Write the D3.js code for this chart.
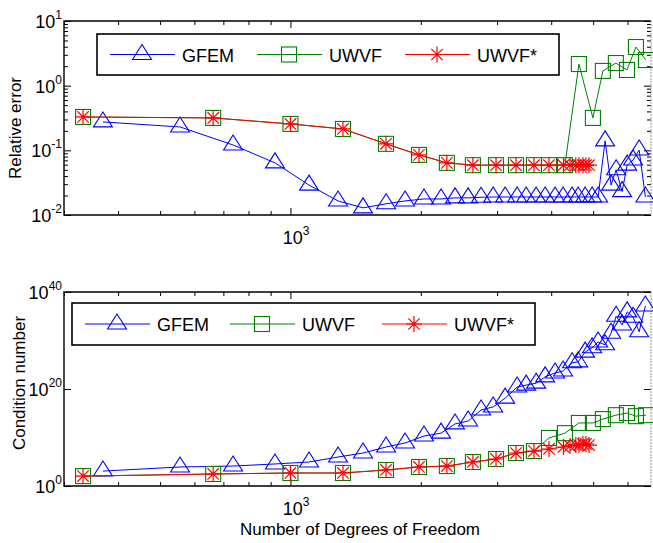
<!DOCTYPE html>
<html>
<head>
<meta charset="UTF-8">
<title>GFEM vs UWVF</title>
<script src="https://cdnjs.cloudflare.com/ajax/libs/d3/7.8.5/d3.min.js"></script>
<style>
body{margin:0;background:#fff;}
svg{display:block;font-family:"Liberation Sans",Arial,Helvetica,sans-serif;}
</style>
</head>
<body>
<script>
// degrees of freedom (x) and the two measured quantities per method
var dofGFEM = [369, 556, 737, 921, 1104, 1288, 1471, 1663, 1839, 2034, 2227, 2399, 2572, 2755, 2938,
  3131, 3337, 3501, 3692, 3873, 4083, 4261, 4470, 4616, 4790, 4972, 5133, 5328, 5500, 5649,
  5832, 5990, 6184, 6385, 6600];
var errGFEM = [0.275, 0.230, 0.121, 0.064, 0.029, 0.0165, 0.0129, 0.0149, 0.0165, 0.0177, 0.0177, 0.0184, 0.0184, 0.0188, 0.019,
  0.019, 0.019, 0.019, 0.019, 0.019, 0.019, 0.019, 0.019, 0.019, 0.019, 0.019, 0.019, 0.14, 0.029, 0.050,
  0.023, 0.059, 0.071, 0.101, 0.019];
var condGFEM = [1.2e3, 8.3e3, 1.3e4, 3.5e4, 8.9e4, 9.5e5, 6.3e6, 1.1e8, 7.4e8, 2.0e10, 7.9e10, 6.3e12, 2.5e13, 4.7e15, 2.0e16,
  1.3e18, 2.5e20, 6.3e20, 1.6e21, 3.2e22, 2.0e23, 5.0e23, 2.5e25, 4.0e25, 4.0e27, 3.2e28, 5.0e29, 1.3e29, 3.2e31, 1.0e35,
  1.6e33, 8.0e35, 6.3e34, 6.3e31, 1.3e37];

var dofUWVF = [332, 663, 1000, 1322, 1662, 1981, 2297, 2638, 2983, 3317, 3649, 3953, 4303, 4635, 4993,
  5265, 5641, 5985, 6277, 6620];
var errUWVF = [0.328, 0.317, 0.256, 0.214, 0.126, 0.085, 0.064, 0.059, 0.059, 0.059, 0.059, 0.059, 0.059, 2.16, 0.317,
  1.69, 2.24, 1.75, 3.96, 2.49];
var condUWVF = [1.1e2, 3.0e2, 4.8e2, 4.8e2, 2.0e3, 8.3e3, 1.3e4, 8.9e4, 3.7e5, 6.3e6, 1.6e7, 7.9e9, 7.9e10, 1.0e13, 1.0e13,
  6.3e13, 4.0e14, 1.1e15, 2.5e14, 4.0e14];

var dofUWVFs = [332, 663, 1000, 1322, 1662, 1981, 2297, 2638, 2983, 3317, 3649, 3953, 4270, 4420, 4560,
  4636, 4736, 4812, 4890];
var errUWVFs = [0.328, 0.317, 0.256, 0.214, 0.126, 0.085, 0.064, 0.059, 0.059, 0.059, 0.059, 0.059, 0.059, 0.059, 0.059,
  0.059, 0.059, 0.059, 0.059];
var condUWVFs = [1.1e2, 3.0e2, 4.8e2, 4.8e2, 2.0e3, 8.3e3, 1.3e4, 8.9e4, 3.7e5, 6.3e6, 1.6e7, 4.3e7, 1.1e8, 1.8e8, 2.8e8,
  2.8e8, 4.6e8, 4.6e8, 2.8e8];

var names = ["GFEM", "UWVF", "UWVF*"];
var colors = ["#0000ff", "#008000", "#ff0000"];
var xMinorTicks = [300, 400, 500, 600, 700, 800, 900, 2000, 3000, 4000, 5000, 6000];
var xMajorTicks = [1000];

var w = 653, h = 543;
var svg = d3.select("body").append("svg").attr("width", w).attr("height", h);

var x = d3.scaleLog().domain([300, 6800]).range([64, 651]);

function marker(g, kind, color){
  if (kind == 0) {
    g.append("path").attr("d", "M0,-10L9.5,5L-9.5,5Z")
      .attr("fill", "none").attr("stroke", color).attr("stroke-width", 1.1);
  } else if (kind == 1) {
    g.append("rect").attr("x", -7.5).attr("y", -7.5).attr("width", 15).attr("height", 15)
      .attr("fill", "none").attr("stroke", color).attr("stroke-width", 1.1);
  } else {
    g.append("path").attr("d", "M-8,0H8M0,-8V8M-5.7,-5.7L5.7,5.7M-5.7,5.7L5.7,-5.7")
      .attr("fill", "none").attr("stroke", color).attr("stroke-width", 1.2);
  }
}

function powLabel(sel, px, py, exp, anchor){
  var t = sel.append("text").attr("x", px).attr("y", py)
    .attr("text-anchor", anchor).attr("font-size", 18);
  t.append("tspan").text("10");
  t.append("tspan").attr("font-size", 12).attr("dy", -9).text(exp);
}

function panel(top, bottom, yDomain, yMajor, yMinor, series, legendBox, legendPos){
  var y = d3.scaleLog().domain(yDomain).range([bottom, top]);
  var g = svg.append("g");

  function tickAxis(axis, vals, len, tr){
    g.append("g").attr("transform", tr)
      .call(axis.tickValues(vals).tickSize(-len).tickSizeOuter(0).tickFormat(""))
      .call(function(s){ s.select(".domain").remove(); s.selectAll("line").attr("stroke", "#000"); });
  }
  tickAxis(d3.axisLeft(y), yMajor, 7, "translate(64,0)");
  tickAxis(d3.axisLeft(y), yMinor, 4, "translate(64,0)");
  tickAxis(d3.axisRight(y), yMajor, 7, "translate(651,0)");
  tickAxis(d3.axisRight(y), yMinor, 4, "translate(651,0)");
  tickAxis(d3.axisBottom(x), xMajorTicks, 7, "translate(0," + bottom + ")");
  tickAxis(d3.axisBottom(x), xMinorTicks, 4, "translate(0," + bottom + ")");
  tickAxis(d3.axisTop(x), xMajorTicks, 7, "translate(0," + top + ")");
  tickAxis(d3.axisTop(x), xMinorTicks, 4, "translate(0," + top + ")");

  g.append("path").attr("d", "M651," + bottom + "H64V" + top + "H651")
    .attr("fill", "none").attr("stroke", "#000").attr("stroke-width", 1.4);
  g.append("line").attr("x1", 651).attr("x2", 651).attr("y1", top).attr("y2", bottom)
    .attr("stroke", "#999").attr("stroke-width", 1).attr("stroke-dasharray", "2,1");

  yMajor.forEach(function(v){
    powLabel(g, 62, y(v) + 7, String(Math.round(Math.log10(v))), "end");
  });
  powLabel(g, 296, bottom + 29, "3", "middle");

  var line = d3.line().x(function(d){ return x(d[0]); }).y(function(d){ return y(d[1]); });
  series.forEach(function(s, i){
    var pts = d3.zip(s[0], s[1]);
    g.append("path").attr("d", line(pts)).attr("fill", "none")
      .attr("stroke", colors[i]).attr("stroke-width", 1);
    pts.forEach(function(p){
      marker(g.append("g").attr("transform", "translate(" + x(p[0]) + "," + y(p[1]) + ")"), i, colors[i]);
    });
  });

  // legend
  g.append("rect").attr("x", legendBox[0]).attr("y", legendBox[1])
    .attr("width", legendBox[2]).attr("height", legendBox[3])
    .attr("fill", "#fff").attr("stroke", "#000").attr("stroke-width", 1.6);
  var ly = legendBox[1] + legendBox[3] / 2;
  names.forEach(function(n, i){
    var lx = legendPos[i];
    g.append("line").attr("x1", lx).attr("x2", lx + 65).attr("y1", ly).attr("y2", ly)
      .attr("stroke", colors[i]).attr("stroke-width", 1);
    marker(g.append("g").attr("transform", "translate(" + (lx + 32) + "," + ly + ")"), i, colors[i]);
    g.append("text").attr("x", lx + 72).attr("y", ly + 7).attr("font-size", 18).text(n);
  });
}

panel(21, 215, [1e-2, 1e1], [1e-2, 1e-1, 1e0, 1e1],
  d3.range(-2, 1).reduce(function(a, e){ return a.concat(d3.range(2, 10).map(function(k){ return k * Math.pow(10, e); })); }, []),
  [[dofGFEM, errGFEM], [dofUWVF, errUWVF], [dofUWVFs, errUWVFs]],
  [97, 34, 462, 41], [110, 257, 405]);

panel(292, 486, [1, 1e40], [1e0, 1e20, 1e40], [],
  [[dofGFEM, condGFEM], [dofUWVF, condUWVF], [dofUWVFs, condUWVFs]],
  [72, 303, 463, 42], [85, 230, 382]);

svg.append("text").attr("transform", "translate(21,128) rotate(-90)")
  .attr("text-anchor", "middle").attr("font-size", 17).text("Relative error");
svg.append("text").attr("transform", "translate(25,383) rotate(-90)")
  .attr("text-anchor", "middle").attr("font-size", 17).text("Condition number");
svg.append("text").attr("x", 360).attr("y", 535)
  .attr("text-anchor", "middle").attr("font-size", 17).text("Number of Degrees of Freedom");
</script>
</body>
</html>
